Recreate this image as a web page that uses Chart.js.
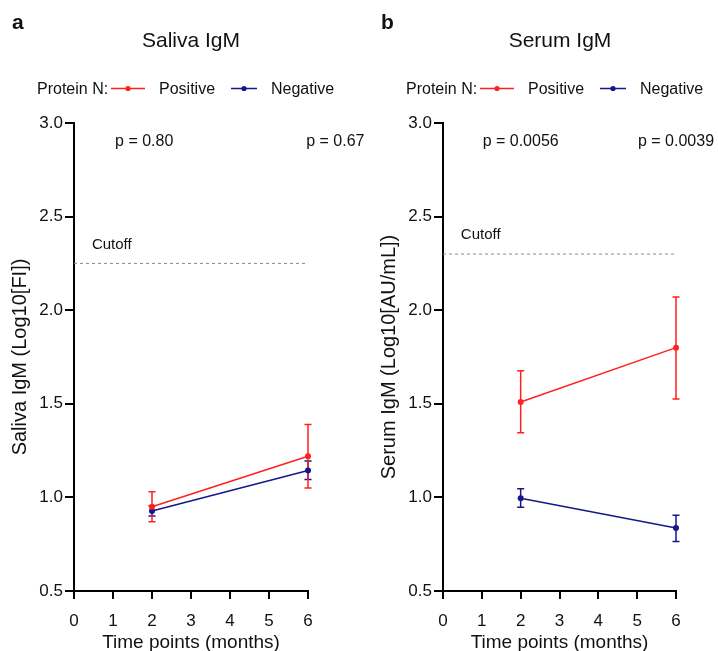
<!DOCTYPE html>
<html>
<head>
<meta charset="utf-8">
<script src="https://cdn.jsdelivr.net/npm/chart.js@4/dist/chart.umd.min.js"></script>
<style>
  body { margin: 0; background: #fff; }
  #wrap { position: relative; width: 718px; height: 651px; overflow: hidden; }
  canvas { position: absolute; top: 0; }
</style>
</head>
<body>
<div id="wrap">
  <canvas id="saliva" width="380" height="651" style="left:0px"></canvas>
  <canvas id="serum" width="349" height="651" style="left:369px"></canvas>
</div>
<script>
// ---- data ----
const months = [2, 6]
const xTicks = [0, 1, 2, 3, 4, 5, 6]
const yTicks = [0.5, 1.0, 1.5, 2.0, 2.5, 3.0]

// saliva IgM (Log10[FI])
const salivaPos = [0.95, 1.22]
const salivaPosLo = [0.87, 1.05]
const salivaPosHi = [1.03, 1.39]
const salivaNeg = [0.927, 1.144]
const salivaNegLo = [0.90, 1.096]
const salivaNegHi = [0.955, 1.194]
const salivaCutoff = 2.25
const salivaPLabels = ['p = 0.80', 'p = 0.67']

// serum IgM (Log10[AU/mL])
const serumPos = [1.51, 1.80]
const serumPosLo = [1.345, 1.525]
const serumPosHi = [1.676, 2.071]
const serumNeg = [0.996, 0.836]
const serumNegLo = [0.948, 0.765]
const serumNegHi = [1.046, 0.905]
const serumCutoff = 2.30
const serumPLabels = ['p = 0.0056', 'p = 0.0039']

const RED = '#ff2020'
const BLUE = '#17178c'
const FONT = '"Liberation Sans", Arial, Helvetica, sans-serif'

//////// error bars, drawn with the chart's own scales
const errorBars = {
  id: 'errorBars',
  beforeDatasetsDraw(chart) {
    const {ctx, scales: {x, y}} = chart
    chart.data.datasets.forEach((ds) => {
      if (!ds.lo) return
      ctx.save()
      ctx.strokeStyle = ds.borderColor
      ctx.lineWidth = 1.5
      ds.data.forEach((pt, i) => {
        const px = x.getPixelForValue(pt.x)
        const top = y.getPixelForValue(ds.hi[i])
        const bot = y.getPixelForValue(ds.lo[i])
        ctx.beginPath()
        ctx.moveTo(px, top); ctx.lineTo(px, bot)
        ctx.moveTo(px - 3.5, top); ctx.lineTo(px + 3.5, top)
        ctx.moveTo(px - 3.5, bot); ctx.lineTo(px + 3.5, bot)
        ctx.stroke()
      })
      ctx.restore()
    })
  }
}

//////// titles, legend, p values, cutoff label
const decorations = {
  id: 'decorations',
  afterDraw(chart) {
    const p = chart.options.panel
    const {ctx, scales: {x, y}} = chart
    ctx.save()
    ctx.fillStyle = '#111'
    ctx.textBaseline = 'alphabetic'

    ctx.font = 'bold 21px ' + FONT
    ctx.textAlign = 'left'
    ctx.fillText(p.letter, 12, 29)

    ctx.font = '21px ' + FONT
    ctx.textAlign = 'center'
    ctx.fillText(p.title, 191, 47)

    // legend
    ctx.font = '16px ' + FONT
    ctx.textAlign = 'left'
    ctx.fillText('Protein N:', 37, 94)
    const sym = (x0, x1, col) => {
      ctx.strokeStyle = col
      ctx.fillStyle = col
      ctx.lineWidth = 1.5
      ctx.beginPath(); ctx.moveTo(x0, 88.5); ctx.lineTo(x1, 88.5); ctx.stroke()
      ctx.beginPath(); ctx.arc((x0 + x1) / 2, 88.5, 2.6, 0, Math.PI * 2); ctx.fill()
    }
    sym(111, 145, RED)
    sym(231, 257, BLUE)
    ctx.fillStyle = '#111'
    ctx.fillText('Positive', 159, 94)
    ctx.fillText('Negative', 271, 94)

    // p values
    ctx.textAlign = 'center'
    ctx.textBaseline = 'middle'
    p.pLabels.forEach((t, i) => {
      ctx.fillText(t, x.getPixelForValue(p.pAt[i]), y.getPixelForValue(2.9))
    })

    // cutoff
    ctx.font = '15px ' + FONT
    ctx.textAlign = 'left'
    ctx.fillText('Cutoff', x.getPixelForValue(0.46), y.getPixelForValue(p.cutoff) - 19)
    ctx.restore()
  }
}

function makePanel(id, p) {
  const pts = (vals) => months.map((m, i) => ({x: m, y: vals[i]}))
  return new Chart(document.getElementById(id), {
    type: 'line',
    data: {
      datasets: [
        {
          label: 'Cutoff', data: [{x: 0, y: p.cutoff}, {x: 6, y: p.cutoff}],
          borderColor: '#8a8a8a', borderWidth: 1, borderDash: [3, 3], pointRadius: 0, order: 3
        },
        {
          label: 'Negative', data: pts(p.neg), lo: p.negLo, hi: p.negHi,
          borderColor: BLUE, backgroundColor: BLUE, borderWidth: 1.5,
          pointRadius: 3, pointBorderWidth: 0, clip: false, order: 2
        },
        {
          label: 'Positive', data: pts(p.pos), lo: p.posLo, hi: p.posHi,
          borderColor: RED, backgroundColor: RED, borderWidth: 1.5,
          pointRadius: 3, pointBorderWidth: 0, clip: false, order: 1
        }
      ]
    },
    options: {
      panel: p,
      responsive: false,
      animation: false,
      layout: {padding: {top: 123, right: p.padRight, left: 0, bottom: 0}},
      plugins: {legend: {display: false}, tooltip: {enabled: false}},
      scales: {
        x: {
          type: 'linear', min: 0, max: 6,
          afterFit: (s) => { s.height = 60 },
          afterBuildTicks: (s) => { s.ticks = xTicks.map((v) => ({value: v})) },
          ticks: {color: '#111', padding: 12, maxRotation: 0, font: {family: FONT, size: 17}},
          grid: {drawOnChartArea: false, color: '#000', lineWidth: 2, tickLength: 8},
          border: {color: '#000', width: 2},
          title: {display: true, text: 'Time points (months)', color: '#111',
            font: {family: FONT, size: 19, lineHeight: 0.85}, padding: 0}
        },
        y: {
          min: 0.5, max: 3.0,
          afterFit: (s) => { s.width = 74 },
          afterBuildTicks: (s) => { s.ticks = yTicks.map((v) => ({value: v})) },
          ticks: {color: '#111', padding: 2, font: {family: FONT, size: 17},
            callback: (v) => Number(v).toFixed(1)},
          grid: {drawOnChartArea: false, color: '#000', lineWidth: 2, tickLength: 9},
          border: {color: '#000', width: 2},
          title: {display: true, text: p.yTitle, color: '#111',
            font: {family: FONT, size: 20}, padding: {top: 8, bottom: 0}}
        }
      }
    },
    plugins: [errorBars, decorations]
  })
}

makePanel('saliva', {
  letter: 'a', title: 'Saliva IgM', yTitle: 'Saliva IgM (Log10[FI])', padRight: 72,
  pos: salivaPos, posLo: salivaPosLo, posHi: salivaPosHi,
  neg: salivaNeg, negLo: salivaNegLo, negHi: salivaNegHi,
  cutoff: salivaCutoff, pLabels: salivaPLabels, pAt: [1.8, 6.7]
})

makePanel('serum', {
  letter: 'b', title: 'Serum IgM', yTitle: 'Serum IgM (Log10[AU/mL])', padRight: 42,
  pos: serumPos, posLo: serumPosLo, posHi: serumPosHi,
  neg: serumNeg, negLo: serumNegLo, negHi: serumNegHi,
  cutoff: serumCutoff, pLabels: serumPLabels, pAt: [2, 6]
})
</script>
</body>
</html>
